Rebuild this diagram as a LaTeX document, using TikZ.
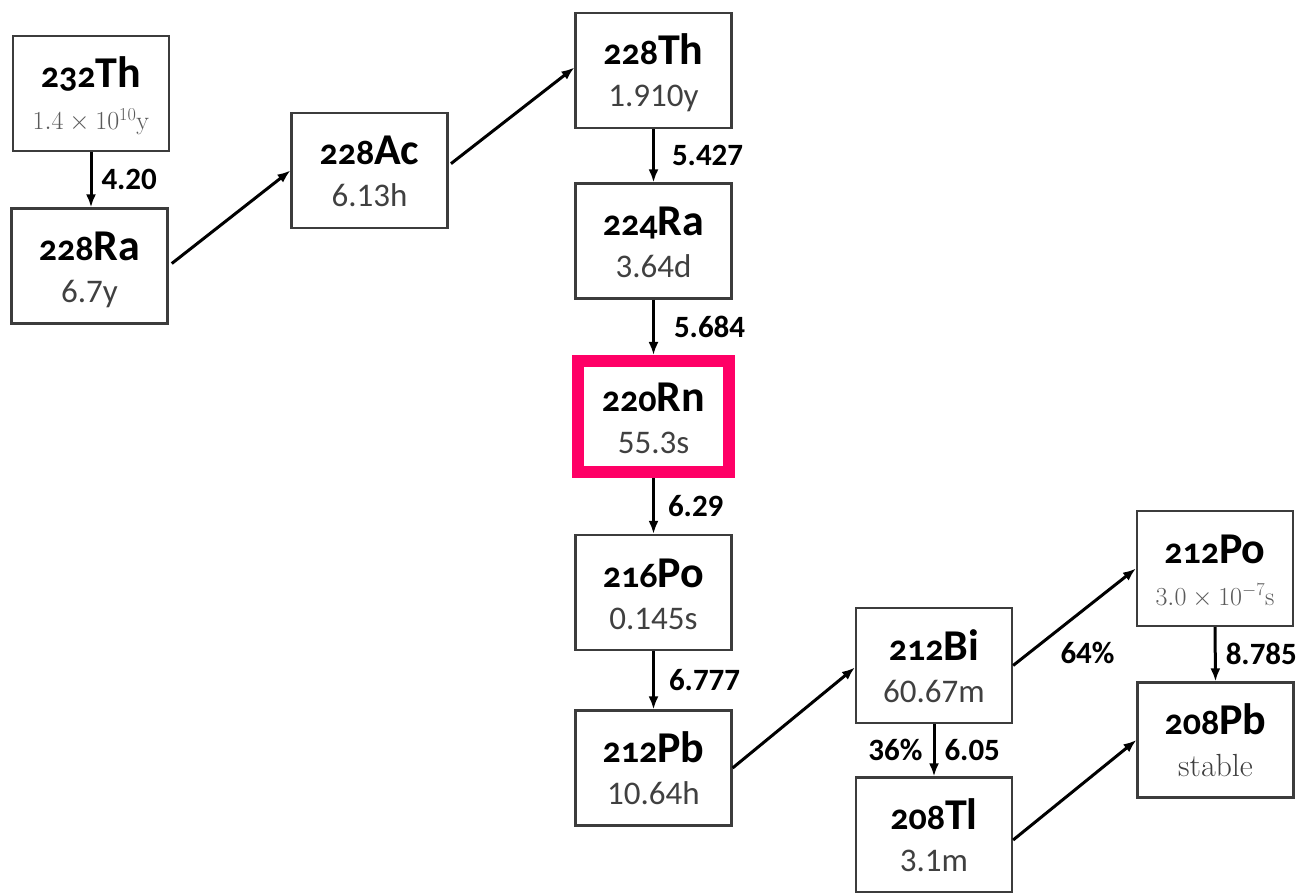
\RequirePackage{fix-cm}
\documentclass[tikz,border=0pt]{standalone}
\usepackage[no-math]{fontspec}
\setmainfont{Carlito}
\newfontfamily\massfont{Carlito}[Numbers=OldStyle]
\usetikzlibrary{arrows.meta}

\definecolor{boxline}{HTML}{3C3C3C}
\definecolor{rnpink}{HTML}{FF0066}
\definecolor{hltext}{HTML}{404040}
\definecolor{mathtext}{HTML}{5A5A5A}

\tikzset{
  nuc/.style={draw=boxline, line width=2.2pt, minimum width=156pt, minimum height=115pt,
              inner sep=0pt, fill=white},
  radon/.style={nuc, draw=rnpink, line width=12pt, minimum width=151pt, minimum height=111pt},
  decay/.style={-{Latex[length=13pt,width=10pt]}, line width=3pt, black},
  elabel/.style={font=\bfseries\fontsize{31}{31}\selectfont, inner sep=0pt, anchor=west},
  symline/.style={anchor=base, inner sep=0pt, text=black},
  hlline/.style={anchor=base, inner sep=0pt, text=hltext, font=\fontsize{33}{33}\selectfont},
  mathline/.style={hlline, text=mathtext, font=\fontsize{26}{26}\selectfont},
}

% mass number in old-style figures, element symbol larger
\newcommand\nuclide[2]{{\massfont\bfseries\fontsize{36}{36}\selectfont #1}{\bfseries\fontsize{44}{44}\selectfont #2}}

% \isobox[box style]{name}{centre}{mass}{symbol}{half-life}{half-life style}
\newcommand\isobox[7][nuc]{%
  \node[#1] (#2) at (#3) {};
  \node[symline] (#2-sym) at ([yshift=5.5pt]#2.center) {\nuclide{#4}{#5}};
  \node[#7] (#2-hl) at ([yshift=-36.5pt]#2.center) {#6};
}

\begin{document}
\begin{tikzpicture}[x=1pt, y=-1pt]
  \useasboundingbox (0,0) rectangle (1304,893);

  \isobox{Th232}{91,93.5}{232}{Th}{$1.4\times10^{10}\mathrm{y}$}{mathline}
  \isobox{Ra228}{89.5,266}{228}{Ra}{6.7y}{hlline}
  \isobox{Ac228}{369.5,170.5}{228}{Ac}{6.13h}{hlline}
  \isobox{Th228}{653.5,70.5}{228}{Th}{1.910y}{hlline}
  \isobox{Ra224}{653.5,241}{224}{Ra}{3.64d}{hlline}
  \isobox[radon]{Rn220}{653.5,416.5}{220}{Rn}{55.3s}{hlline}
  \isobox{Po216}{653.5,592.5}{216}{Po}{0.145s}{hlline}
  \isobox{Pb212}{653.5,768}{212}{Pb}{10.64h}{hlline}
  \isobox{Bi212}{934,665.5}{212}{Bi}{60.67m}{hlline}
  \isobox{Tl208}{934,835}{208}{Tl}{3.1m}{hlline}
  \isobox{Po212}{1215,568.5}{212}{Po}{$3.0\times10^{-7}\mathrm{s}$}{mathline}
  \isobox{Pb208}{1215.5,740}{208}{Pb}{\fontsize{32}{32}\selectfont$\mathrm{stable}$}{hlline}

  % decay chain
  \draw[decay] (Th232.south) -- (Th232.south |- Ra228.north)
    node[elabel, midway, xshift=9pt] {4.20};
  \draw[decay, shorten <=4pt] (Ra228.east) -- (Ac228.west);
  \draw[decay, shorten <=3pt] ([yshift=5pt]Ac228.east) -- ([yshift=3pt]Th228.west);
  \draw[decay] (Th228.south) -- (Ra224.north)
    node[elabel, midway, xshift=17pt] {5.427};
  \draw[decay] (Ra224.south) -- (Rn220.north)
    node[elabel, midway, xshift=19pt] {5.684};
  \draw[decay] (Rn220.south) -- (Po216.north)
    node[elabel, midway, xshift=13pt] {6.29};
  \draw[decay] (Po216.south) -- (Pb212.north)
    node[elabel, midway, xshift=14pt] {6.777};
  \draw[decay] (Pb212.east) -- ([yshift=-2pt]Bi212.west);
  \draw[decay] (Bi212.east) -- (Po212.west)
    node[elabel, anchor=center, midway, xshift=13pt, yshift=-36pt] {64\%};
  \draw[decay] (Bi212.south) -- (Tl208.north)
    node[elabel, anchor=east, midway, xshift=-10pt] {36\%}
    node[elabel, midway, xshift=9pt] {6.05};
  \draw[decay] (Po212.south) -- (Pb208.north)
    node[elabel, midway, xshift=9pt] {8.785};
  \draw[decay] ([yshift=-5pt]Tl208.east) -- (Pb208.west);
\end{tikzpicture}
\end{document}
